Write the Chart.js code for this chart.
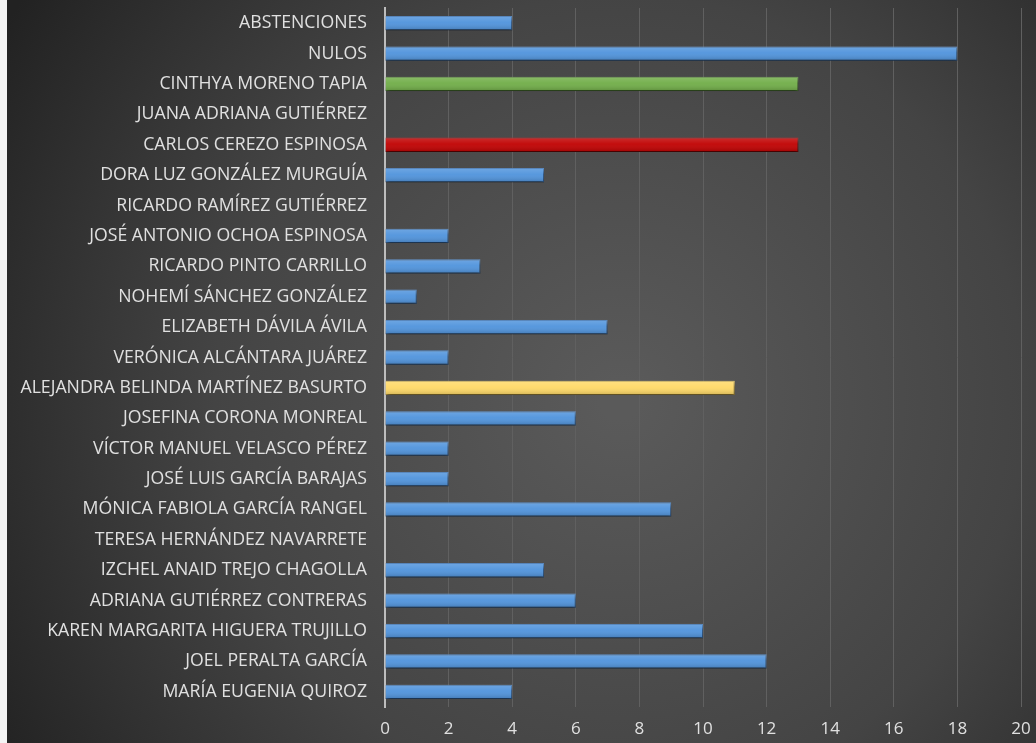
<!DOCTYPE html>
<html><head><meta charset="utf-8">
<script src="https://cdn.jsdelivr.net/npm/chart.js@4/dist/chart.umd.min.js"></script>
<style>html,body{margin:0;padding:0;background:#fff;}#wrap{width:1036px;height:743px;}</style>
</head><body><div id="wrap"><canvas id="c" width="1036" height="743"></canvas></div>
<script>
const categories = ["ABSTENCIONES","NULOS","CINTHYA MORENO TAPIA","JUANA ADRIANA GUTIÉRREZ","CARLOS CEREZO ESPINOSA","DORA LUZ GONZÁLEZ MURGUÍA","RICARDO RAMÍREZ GUTIÉRREZ","JOSÉ ANTONIO OCHOA ESPINOSA","RICARDO PINTO CARRILLO","NOHEMÍ SÁNCHEZ GONZÁLEZ","ELIZABETH DÁVILA ÁVILA","VERÓNICA ALCÁNTARA JUÁREZ","ALEJANDRA BELINDA MARTÍNEZ BASURTO","JOSEFINA CORONA MONREAL","VÍCTOR MANUEL VELASCO PÉREZ","JOSÉ LUIS GARCÍA BARAJAS","MÓNICA FABIOLA GARCÍA RANGEL","TERESA HERNÁNDEZ NAVARRETE","IZCHEL ANAID TREJO CHAGOLLA","ADRIANA GUTIÉRREZ CONTRERAS","KAREN MARGARITA HIGUERA TRUJILLO","JOEL PERALTA GARCÍA","MARÍA EUGENIA QUIROZ"];
const votes = [4,18,13,0,13,5,0,2,3,1,7,2,11,6,2,2,9,0,5,6,10,12,4];
const barColors = ["#4f93dc","#4f93dc","#70ad47","#4f93dc","#c00000","#4f93dc","#4f93dc","#4f93dc","#4f93dc","#4f93dc","#4f93dc","#4f93dc","#ffd966","#4f93dc","#4f93dc","#4f93dc","#4f93dc","#4f93dc","#4f93dc","#4f93dc","#4f93dc","#4f93dc","#4f93dc"];
const borderColors = ["#3a72b3","#3a72b3","#558a35","#3a72b3","#9a0000","#3a72b3","#3a72b3","#3a72b3","#3a72b3","#3a72b3","#3a72b3","#3a72b3","#d9b84f","#3a72b3","#3a72b3","#3a72b3","#3a72b3","#3a72b3","#3a72b3","#3a72b3","#3a72b3","#3a72b3","#3a72b3"];
const xTicks = [0,2,4,6,8,10,12,14,16,18,20];

const FONT = '"Open Sans", sans-serif';

const bgPlugin = {
  id: 'bg',
  beforeDraw(chart) {
    const ctx = chart.ctx, w = chart.width, h = chart.height;
    ctx.save();
    const g = ctx.createRadialGradient(620, 400, 20, 620, 400, 720);
    g.addColorStop(0, '#5a5a5a');
    g.addColorStop(0.55, '#444444');
    g.addColorStop(1, '#222222');
    ctx.fillStyle = g;
    ctx.fillRect(0, 0, w, h);
    ctx.fillStyle = '#f4f4f4';
    ctx.fillRect(0, 0, 7, h);
    ctx.restore();
  },
  beforeDatasetsDraw(chart) {
    const ctx = chart.ctx;
    ctx.save();
    ctx.shadowColor = 'rgba(0,0,0,0.55)';
    ctx.shadowBlur = 4;
    ctx.shadowOffsetX = 1;
    ctx.shadowOffsetY = 3;
  },
  afterDatasetsDraw(chart) {
    const ctx = chart.ctx;
    ctx.restore();
    const meta = chart.getDatasetMeta(0);
    meta.data.forEach((bar) => {
      const p = bar.getProps(['x','y','base','height'], true);
      if (Math.abs(p.x - p.base) < 1) return;
      const top = p.y - p.height / 2, bot = p.y + p.height / 2;
      const g = ctx.createLinearGradient(0, top, 0, bot);
      g.addColorStop(0, 'rgba(255,255,255,0.18)');
      g.addColorStop(0.45, 'rgba(255,255,255,0.05)');
      g.addColorStop(1, 'rgba(0,0,0,0.18)');
      ctx.save();
      ctx.fillStyle = g;
      ctx.fillRect(p.base, top, p.x - p.base, p.height);
      ctx.restore();
    });
  }
};

new Chart(document.getElementById('c'), {
  type: 'bar',
  data: {
    labels: categories,
    datasets: [{
      data: votes,
      backgroundColor: barColors,
      borderColor: borderColors,
      borderWidth: 1,
      borderSkipped: 'start',
      categoryPercentage: 1,
      barPercentage: 0.47
    }]
  },
  options: {
    indexAxis: 'y',
    responsive: false,
    animation: false,
    devicePixelRatio: 1,
    layout: { padding: { left: 0, right: 15, top: 8, bottom: 0 } },
    plugins: { legend: { display: false }, tooltip: { enabled: false } },
    scales: {
      x: {
        min: 0, max: 20,
        afterBuildTicks(scale) { scale.ticks = xTicks.map(v => ({ value: v })); },
        afterFit(scale) { scale.height = 36; scale.paddingLeft = 0; scale.paddingRight = 0; },
        grid: { color: '#606060', lineWidth: 1, drawTicks: false },
        border: { display: false },
        ticks: { color: '#e0e0e0', font: { family: FONT, size: 17 }, padding: 12 }
      },
      y: {
        afterFit(scale) { scale.width = 385; scale.paddingTop = 0; scale.paddingBottom = 0; },
        grid: { display: false, drawTicks: false },
        border: { display: true, color: '#bdbdbd', width: 2 },
        ticks: { color: '#e0e0e0', font: { family: FONT, size: 17.7 }, padding: 18, autoSkip: false }
      }
    }
  },
  plugins: [bgPlugin]
});
</script>
</body></html>
